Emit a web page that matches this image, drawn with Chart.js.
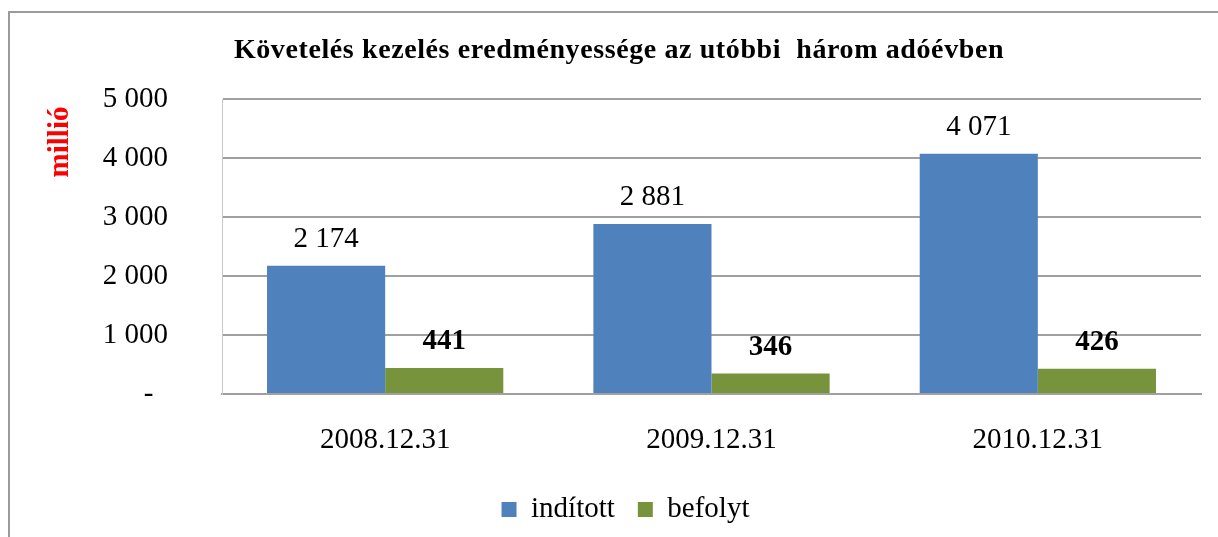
<!DOCTYPE html>
<html>
<head>
<meta charset="utf-8">
<script src="https://cdn.jsdelivr.net/npm/chart.js@4"></script>
<style>
  html, body { margin: 0; padding: 0; background: #fff; }
  #wrap { width: 1218px; height: 537px; }
</style>
</head>
<body>
<div id="wrap"><canvas id="chart" width="1218" height="537"></canvas></div>
<script>
// ── Data ───────────────────────────────────────────────────────────
const categories = ['2008.12.31', '2009.12.31', '2010.12.31'];
const inditott = [2174, 2881, 4071];
const befolyt = [441, 346, 426];
const yTicks = [0, 1000, 2000, 3000, 4000, 5000];

const TITLE = 'Követelés kezelés eredményessége az utóbbi  három adóévben';
const FONT = "'Liberation Serif', 'Times New Roman', serif";

function fmt(v) {
  if (v === 0) return '-  ';
  return String(v).replace(/\B(?=(\d{3})+(?!\d))/g, ' ');
}

// frame, title, axis caption and value labels
const extras = {
  id: 'extras',
  beforeDraw(chart) {
    const c = chart.ctx;
    c.save();
    c.fillStyle = '#fff';
    c.fillRect(0, 0, chart.width, chart.height);
    c.strokeStyle = '#9a9a9a';
    c.lineWidth = 2;
    c.beginPath();
    c.moveTo(9, chart.height + 2);
    c.lineTo(9, 12);
    c.lineTo(chart.width + 2, 12);
    c.stroke();

    // title (slightly spaced out like the original)
    c.fillStyle = '#000';
    c.font = 'bold 28px ' + FONT;
    c.textAlign = 'left';
    c.textBaseline = 'alphabetic';
    if ('letterSpacing' in c) c.letterSpacing = '0.6px';
    const w = c.measureText(TITLE).width;
    c.fillText(TITLE, 619 - w / 2, 58);
    if ('letterSpacing' in c) c.letterSpacing = '0px';

    // "millió" caption
    c.translate(61, 142);
    c.rotate(-Math.PI / 2);
    c.fillStyle = '#ff0000';
    c.font = 'bold 29px ' + FONT;
    c.textAlign = 'center';
    c.textBaseline = 'middle';
    c.fillText('millió', 0, 0);
    c.restore();
  },
  afterDatasetsDraw(chart) {
    const c = chart.ctx;
    c.save();
    c.fillStyle = '#000';
    c.textAlign = 'center';
    c.textBaseline = 'alphabetic';
    chart.data.datasets.forEach((ds, i) => {
      const meta = chart.getDatasetMeta(i);
      c.font = (i === 1 ? 'bold ' : '') + '29px ' + FONT;
      meta.data.forEach((bar, j) => {
        c.fillText(fmt(ds.data[j]), bar.x, bar.y - 19);
      });
    });
    c.restore();
  }
};

new Chart(document.getElementById('chart'), {
  type: 'bar',
  data: {
    labels: categories,
    datasets: [
      { label: 'indított', data: inditott, backgroundColor: '#4f81bd', borderWidth: 0 },
      { label: 'befolyt', data: befolyt, backgroundColor: '#77933c', borderWidth: 0 },
    ],
  },
  options: {
    responsive: false,
    animation: false,
    devicePixelRatio: 1,
    layout: { padding: { left: 50, right: 17, top: 99, bottom: 3 } },
    datasets: { bar: { barPercentage: 1, categoryPercentage: 0.724 } },
    plugins: {
      title: { display: false },
      legend: {
        position: 'bottom',
        labels: {
          color: '#000',
          font: { family: FONT, size: 29 },
          boxWidth: 15, boxHeight: 15, padding: 23,
        },
      },
      tooltip: { enabled: false },
    },
    scales: {
      x: {
        grid: { display: false },
        border: { color: '#a0a0a0', width: 2 },
        ticks: { color: '#000', font: { family: FONT, size: 29 }, padding: 21 },
        afterFit: s => { s.height = 78; },
      },
      y: {
        min: 0, max: 5000,
        afterBuildTicks: s => { s.ticks = yTicks.map(v => ({ value: v })); },
        grid: { color: '#a0a0a0', lineWidth: 2, drawTicks: false },
        border: { color: '#c8c8c8', width: 1 },
        ticks: { color: '#000', font: { family: FONT, size: 29 }, padding: 54, callback: v => fmt(v) },
        afterFit: s => { s.width = 172; },
      },
    },
  },
  plugins: [extras],
});
</script>
</body>
</html>
